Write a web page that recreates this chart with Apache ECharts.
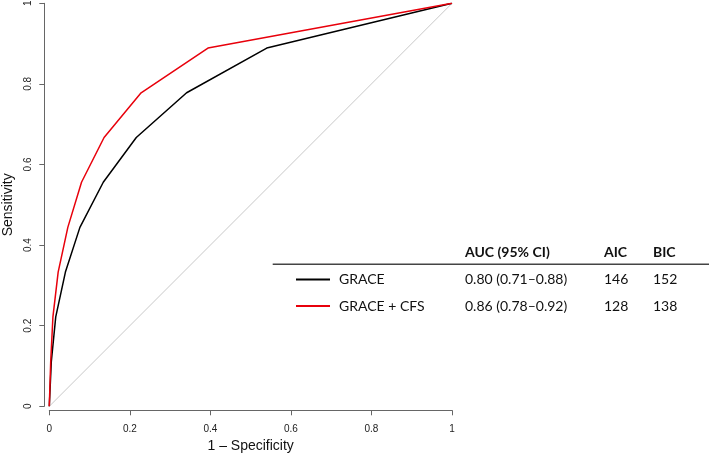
<!DOCTYPE html>
<html>
<head>
<meta charset="utf-8">
<script src="https://cdn.jsdelivr.net/npm/echarts@6/dist/echarts.min.js"></script>
<style>
html,body{margin:0;padding:0;background:#fff;}
#chart{width:709px;height:455px;}
</style>
</head>
<body>
<div id="chart"></div>
<script>
// ROC curve data (1 - specificity, sensitivity)
const graceFpr = [0, 0.005, 0.016, 0.040, 0.076, 0.134, 0.216, 0.341, 0.540, 1];
const graceTpr = [0, 0.111, 0.222, 0.333, 0.444, 0.556, 0.667, 0.778, 0.889, 1];
const cfsFpr   = [0, 0.0035, 0.009, 0.022, 0.046, 0.080, 0.136, 0.228, 0.394, 1];
const cfsTpr   = [0, 0.111, 0.222, 0.333, 0.444, 0.556, 0.667, 0.778, 0.889, 1];
const diagX = [0, 1];
const diagY = [0, 1];

// Table
const tableHeaders = ['AUC (95% CI)', 'AIC', 'BIC'];
const modelNames = ['GRACE', 'GRACE + CFS'];
const aucCi = ['0.80 (0.71–0.88)', '0.86 (0.78–0.92)'];
const aicVals = ['146', '128'];
const bicVals = ['152', '138'];
const modelColors = ['#000000', '#e8000b'];

const zip = (a, b) => a.map((v, i) => [v, b[i]]);

const chart = echarts.init(document.getElementById('chart'), null, {renderer: 'canvas'});

const tableFont = '14px Lato';
const tableFontBold = 'bold 14px Lato';
const colX = [465, 604, 653];
const headerY = 252;
const rowY = [279.5, 306];

const graphics = [];
tableHeaders.forEach((h, i) => {
  graphics.push({type: 'text', x: colX[i], y: headerY,
    style: {text: h, font: tableFontBold, fill: '#111', verticalAlign: 'middle', align: 'left'}});
});
graphics.push({type: 'line', shape: {x1: 272.7, y1: 264.3, x2: 709, y2: 264.3},
  style: {stroke: '#444', lineWidth: 1.5}});
modelNames.forEach((m, r) => {
  graphics.push({type: 'line', shape: {x1: 296, y1: rowY[r], x2: 330, y2: rowY[r]},
    style: {stroke: modelColors[r], lineWidth: 2}});
  graphics.push({type: 'text', x: 339, y: rowY[r],
    style: {text: m, font: tableFont, fill: '#111', verticalAlign: 'middle'}});
  graphics.push({type: 'text', x: colX[0], y: rowY[r],
    style: {text: aucCi[r], font: tableFont, fill: '#111', verticalAlign: 'middle'}});
  graphics.push({type: 'text', x: colX[1], y: rowY[r],
    style: {text: aicVals[r], font: tableFont, fill: '#111', verticalAlign: 'middle'}});
  graphics.push({type: 'text', x: colX[2], y: rowY[r],
    style: {text: bicVals[r], font: tableFont, fill: '#111', verticalAlign: 'middle'}});
});

const axisCommon = {
  type: 'value', min: 0, max: 1, interval: 0.2,
  axisLine: {show: true, onZero: false, lineStyle: {color: '#666', width: 1}},
  axisTick: {show: true, length: 5, lineStyle: {color: '#666', width: 1}},
  splitLine: {show: false},
  nameLocation: 'middle',
  nameTextStyle: {fontSize: 14, color: '#111', fontFamily: 'Liberation Sans'}
};

const option = {
  animation: false,
  backgroundColor: '#fff',
  grid: {left: 49.3, top: 3.3, width: 402.7, height: 403, containLabel: false, outerBoundsMode: 'none'},
  xAxis: Object.assign({}, axisCommon, {
    offset: 4,
    name: '1 – Specificity', nameGap: 26,
    axisLabel: {fontSize: 10, color: '#222', margin: 13.5, fontFamily: 'Liberation Sans'}
  }),
  yAxis: Object.assign({}, axisCommon, {
    offset: 5,
    name: 'Sensitivity', nameGap: 23.5,
    axisLabel: {fontSize: 10, color: '#222', margin: 11, rotate: 90, fontFamily: 'Liberation Sans'}
  }),
  series: [
    {type: 'line', data: zip(diagX, diagY), showSymbol: false, silent: true,
      lineStyle: {color: '#c8c8c8', width: 1}},
    {type: 'line', name: modelNames[0], data: zip(graceFpr, graceTpr), showSymbol: false,
      lineStyle: {color: modelColors[0], width: 1.5}},
    {type: 'line', name: modelNames[1], data: zip(cfsFpr, cfsTpr), showSymbol: false,
      lineStyle: {color: modelColors[1], width: 1.5}}
  ],
  graphic: graphics
};
chart.setOption(option);
</script>
</body>
</html>
